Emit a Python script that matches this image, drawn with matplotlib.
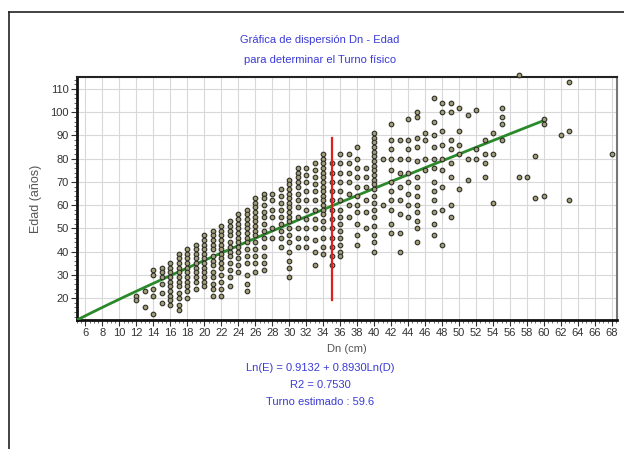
import numpy as np
import matplotlib.pyplot as plt
from matplotlib.lines import Line2D
from matplotlib.ticker import MultipleLocator

plt.rcParams['font.family'] = ['Liberation Sans', 'DejaVu Sans']

# diameter classes (cm) and the ages (years) read at each class
dn_clases = [12, 13, 14, 15, 16, 17, 18, 19, 20, 21, 22, 23, 24, 25, 26, 27,
             28, 29, 30, 31, 32, 33, 34, 35, 36, 37, 38, 39, 40, 41, 42, 43,
             44, 45, 46, 47, 48, 49, 50, 51, 52, 53, 54, 55, 57, 58, 59, 60,
             62, 63, 68]
edades = [
    [21, 19],
    [16, 23],
    [32, 30, 24, 21, 13],
    [33, 31, 29, 26, 22, 18],
    [35, 33, 31, 29, 27, 25, 23, 21, 19, 17],
    [39, 37, 35, 33, 31, 29, 27, 25, 22, 20, 17, 15],
    [41, 39, 37, 35, 33, 31, 29, 27, 25, 23, 20],
    [43, 41, 39, 37, 35, 33, 31, 29, 27, 24],
    [47, 45, 43, 41, 39, 37, 35, 33, 31, 29, 27, 25],
    [49, 47, 45, 43, 41, 38, 36, 34, 31, 29, 26, 24, 21],
    [51, 49, 47, 45, 43, 41, 39, 37, 35, 33, 30, 27, 24, 21],
    [53, 51, 49, 47, 44, 42, 40, 38, 35, 32, 29, 25],
    [56, 54, 52, 50, 48, 46, 44, 42, 40, 37, 34, 31],
    [58, 56, 54, 52, 50, 48, 46, 44, 41, 38, 35, 30, 26, 23],
    [63, 61, 59, 57, 55, 53, 51, 49, 47, 44, 41, 38, 35, 31],
    [65, 63, 60, 57, 55, 52, 49, 46, 42, 38, 35, 32],
    [65, 62, 58, 55, 50, 46],
    [67, 64, 61, 58, 55, 52, 49, 46, 42],
    [71, 69, 67, 65, 63, 61, 59, 57, 55, 53, 50, 47, 44, 40, 36, 33, 29],
    [76, 74, 72, 70, 68, 65, 62, 59, 55, 50, 46, 42],
    [76, 73, 70, 66, 62, 58, 54, 50, 46, 42],
    [78, 75, 72, 69, 66, 62, 58, 54, 50, 45, 40, 34],
    [82, 80, 78, 76, 74, 72, 70, 68, 66, 64, 62, 60, 58, 56, 53, 50, 46, 42, 39],
    [78, 74, 70, 66, 62, 58, 54, 50, 46, 42, 38, 34],
    [82, 78, 74, 70, 66, 62, 58, 55, 52, 49, 46, 43, 40, 38],
    [82, 78, 74, 70, 65, 60, 55],
    [85, 80, 76, 72, 68, 64, 60, 57, 52, 47, 43],
    [76, 72, 68, 62, 57, 50],
    [91, 89, 87, 85, 83, 81, 79, 77, 75, 73, 71, 69, 67, 64, 61, 58, 55, 51, 47, 44, 40],
    [80, 60],
    [95, 88, 84, 80, 75, 70, 66, 62, 58, 52, 48],
    [88, 80, 74, 68, 62, 56, 48, 40],
    [97, 88, 84, 80, 74, 70, 65, 60, 55],
    [100, 98, 89, 85, 79, 72, 68, 64, 60, 57, 53, 50, 44],
    [91, 88, 80, 75],
    [106, 96, 90, 85, 80, 76, 70, 66, 62, 57, 52, 47],
    [104, 100, 92, 86, 80, 75, 68, 58, 43],
    [104, 100, 88, 84, 78, 72, 60, 55],
    [102, 92, 86, 82, 67],
    [99, 80, 71],
    [101, 84, 80],
    [88, 82, 78, 72],
    [91, 82, 61],
    [102, 98, 95, 88],
    [116, 72],
    [72],
    [81, 63],
    [97, 95, 64],
    [90],
    [113, 92, 62],
    [82],
]

# fitted model Ln(E) = a + b Ln(D)
coef_a = 0.9132
coef_b = 0.8930
r2 = 0.7530
dn_turno = 35
turno = 59.6
red_range = [19, 89]
fit_range = [5, 60]

xs = [d for d, col in zip(dn_clases, edades) for _ in col]
ys = [e for col in edades for e in col]

blue = '#3b3bd6'
grey = '#555555'

fig = plt.figure(figsize=(6.24, 4.49), dpi=100)
fig.add_artist(Line2D([9/624, 1], [1 - 12/449, 1 - 12/449], color='#222', lw=1.2))
fig.add_artist(Line2D([9/624, 9/624], [0, 1 - 12/449], color='#222', lw=1.2))

ax = fig.add_axes([77/624, 1 - 320/449, 540/624, 243/449])

ax.xaxis.set_major_locator(MultipleLocator(2))
ax.xaxis.set_minor_locator(MultipleLocator(0.5))
ax.yaxis.set_major_locator(MultipleLocator(10))
ax.yaxis.set_minor_locator(MultipleLocator(2))
ax.grid(True, which='major', color='#d8d8d8', lw=0.8)
ax.set_axisbelow(True)

dfit = np.linspace(fit_range[0], fit_range[1], 200)
ax.plot(dfit, np.exp(coef_a + coef_b * np.log(dfit)), color='#2a8a2a', lw=2, zorder=3)
ax.scatter(xs, ys, s=11, facecolor='#a29e7a', edgecolor='#2e2e28', lw=0.8, zorder=4,
           clip_on=False)
ax.plot([dn_turno, dn_turno], red_range, color='#e02020', lw=1.6, zorder=5)

ax.set_xlim(5, 68.6)
ax.set_ylim(10.5, 115.2)

for s in ['left', 'bottom']:
    ax.spines[s].set_linewidth(2)
    ax.spines[s].set_color('#111')
ax.spines['top'].set_linewidth(1.5)
ax.spines['top'].set_color('#222')
ax.spines['right'].set_linewidth(1.5)
ax.spines['right'].set_color('#777')

ax.tick_params(which='major', length=4, width=0.8, color='#333', labelsize=8, labelcolor='#333', pad=2)
ax.tick_params(which='minor', length=2, width=0.6, color='#555')
ax.set_yticks(np.arange(20, 111, 10))

ax.set_xlabel('Dn (cm)', fontsize=8, color=grey, labelpad=4)
ax.set_ylabel('Edad (años)', fontsize=9, color=grey, labelpad=6)

fig.text(0.513, 1 - 40/449, 'Gráfica de dispersión Dn - Edad', ha='center', va='center',
         fontsize=8, color=blue)
fig.text(0.513, 1 - 60/449, 'para determinar el Turno físico', ha='center', va='center',
         fontsize=8, color=blue)
fig.text(0.513, 1 - 368/449, f'Ln(E) = {coef_a:.4f} + {coef_b:.4f}Ln(D)', ha='center',
         va='center', fontsize=8, color=blue)
fig.text(0.513, 1 - 385/449, f'R2 = {r2:.4f}', ha='center', va='center', fontsize=8, color=blue)
fig.text(0.513, 1 - 402/449, f'Turno estimado : {turno}', ha='center', va='center',
         fontsize=8, color=blue)

fig.savefig('out.png', dpi=100)
